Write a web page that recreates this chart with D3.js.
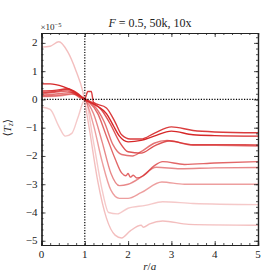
<!DOCTYPE html>
<html>
<head>
<meta charset="utf-8">
<script src="https://cdn.jsdelivr.net/npm/d3@7"></script>
<style>
  body { margin: 0; background: #fff; }
  svg text { font-family: "Liberation Serif", "DejaVu Serif", serif; fill: #222; }
</style>
</head>
<body>
<div id="chart"></div>
<script>
/** <Tz> profile, F = 0.5 *******************/

// x ticks (r/a) and y ticks (units of 1e-5)
var xTicks = [0, 1, 2, 3, 4, 5];
var yTicks = [-5, -4, -3, -2, -1, 0, 1, 2];

// line opacities, darkest first
var alphas = [1.0, 0.9, 0.8, 0.7, 0.65, 0.55, 0.45, 0.25, 0.3];

// each series: [r/a, <Tz> x 1e5]
var s0 = [[0,0.55],[0.2,0.55],[0.5,0.45],[0.75,0.28],[1.0,0.0],[1.3,-0.25],[1.5,-0.5],[1.65,-0.9],[1.8,-1.3],[2.0,-1.5],[2.3,-1.45],[2.6,-1.3],[3.0,-1.12],[3.5,-1.25],[4.0,-1.28],[5,-1.3]];
var s1 = [[0,0.3],[0.3,0.32],[0.6,0.38],[0.85,0.2],[1.0,0.02],[1.07,0.28],[1.15,0.28],[1.2,-0.1],[1.5,-0.3],[1.7,-0.8],[1.85,-1.25],[2.05,-1.4],[2.3,-1.4],[2.6,-1.2],[3.0,-0.97],[3.5,-1.1],[4.0,-1.15],[5,-1.18]];
var s2 = [[0,0.25],[0.3,0.28],[0.6,0.35],[0.9,0.1],[1.1,-0.05],[1.4,-0.4],[1.6,-0.9],[1.8,-1.5],[2.0,-1.85],[2.3,-1.9],[2.6,-1.65],[2.95,-1.47],[3.5,-1.6],[4.0,-1.6],[5,-1.61]];
var s3 = [[0,0.2],[0.3,0.25],[0.6,0.3],[0.9,0.05],[1.1,-0.1],[1.3,-0.5],[1.5,-1.3],[1.7,-2.1],[1.85,-2.6],[1.95,-2.7],[2.0,-2.62],[2.05,-2.75],[2.12,-2.68],[2.2,-2.78],[2.35,-2.7],[2.6,-2.35],[2.8,-2.2],[3.3,-2.3],[4.0,-2.25],[5,-2.2]];
var s4 = [[0,0.15],[0.4,0.2],[0.7,0.25],[1.0,0.0],[1.2,-0.2],[1.45,-0.8],[1.65,-1.6],[1.85,-1.95],[2.1,-2.0],[2.3,-1.85],[2.6,-1.55],[2.9,-1.45],[3.5,-1.62],[4.0,-1.62],[5,-1.65]];
var s5 = [[0,0.12],[0.4,0.15],[0.7,0.2],[1.0,0.0],[1.2,-0.5],[1.4,-1.5],[1.6,-2.6],[1.8,-3.05],[2.0,-3.0],[2.3,-2.75],[2.65,-2.4],[3.2,-2.45],[4.0,-2.42],[5,-2.41]];
var s6 = [[0,0.1],[0.4,0.12],[0.7,0.18],[1.0,0.0],[1.2,-0.9],[1.4,-2.2],[1.6,-3.2],[1.8,-3.5],[2.0,-3.5],[2.3,-3.3],[2.78,-2.92],[3.3,-3.0],[4.0,-3.0],[5,-3.0]];
var s7 = [[0,-0.27],[0.2,-0.35],[0.4,-0.95],[0.55,-1.3],[0.7,-1.2],[0.85,-0.6],[1.0,0.0],[1.2,-1.5],[1.4,-3.2],[1.55,-4.0],[1.75,-4.05],[2.0,-3.85],[2.4,-3.75],[2.8,-3.62],[3.5,-3.68],[5,-3.72]];
var s8 = [[0,1.85],[0.2,1.88],[0.4,2.04],[0.6,1.7],[0.8,1.0],[0.95,0.3],[1.1,-1.0],[1.3,-2.9],[1.5,-4.2],[1.7,-4.8],[1.85,-4.9],[2.05,-4.65],[2.3,-4.45],[2.35,-4.52],[2.5,-4.4],[2.8,-4.3],[3.4,-4.42],[5,-4.45]];

var series = [s0, s1, s2, s3, s4, s5, s6, s7, s8];

//**************************************************/

var W = 277, H = 277;
var padL = 41.5, padR = 258, padT = 33, padB = 245;

var svg = d3.select("#chart").append("svg")
    .attr("width", W)
    .attr("height", H);

var x = d3.scaleLinear().domain([0, 5]).range([padL, padR]);
var y = d3.scaleLinear().domain([-5.15, 2.35]).range([padB, padT]);

svg.append("clipPath").attr("id", "clip")
  .append("rect")
    .attr("x", padL).attr("y", padT)
    .attr("width", padR - padL).attr("height", padB - padT);

var line = d3.line()
    .x(function(d) { return x(d[0]); })
    .y(function(d) { return y(d[1]); })
    .curve(d3.curveMonotoneX);

var plot = svg.append("g").attr("clip-path", "url(#clip)");

// draw lightest first so dark ones sit on top
var order = d3.range(series.length).sort(function(a, b) { return alphas[a] - alphas[b]; });
order.forEach(function(i) {
    plot.append("path")
        .attr("d", line(series[i]))
        .attr("fill", "none")
        .attr("stroke", "#d62728")
        .attr("stroke-opacity", alphas[i])
        .attr("stroke-width", 1.4);
});

// dotted guides
svg.append("line")
    .attr("x1", padL).attr("x2", padR)
    .attr("y1", y(0)).attr("y2", y(0))
    .attr("stroke", "#000").attr("stroke-width", 1.2)
    .attr("stroke-dasharray", "1.2,1.5");
svg.append("line")
    .attr("x1", x(1)).attr("x2", x(1))
    .attr("y1", padT).attr("y2", padB)
    .attr("stroke", "#000").attr("stroke-width", 1.2)
    .attr("stroke-dasharray", "1.2,1.5");

// axes, ticks inward on all four sides
var fmt = function(d) { return d < 0 ? "\u2212" + (-d) : "" + d; };
var xMinor = d3.range(0, 5.001, 0.2);
var yMinor = d3.range(-5, 2.35, 0.2);

svg.append("g").attr("transform", "translate(0," + padB + ")")
    .call(d3.axisTop(x).tickValues(xMinor).tickSize(2).tickFormat(""));
svg.append("g").attr("transform", "translate(0," + padB + ")")
    .call(d3.axisTop(x).tickValues(xTicks).tickSize(4).tickFormat(""));
svg.append("g").attr("transform", "translate(0," + padT + ")")
    .call(d3.axisBottom(x).tickValues(xMinor).tickSize(2).tickFormat(""));
svg.append("g").attr("transform", "translate(0," + padT + ")")
    .call(d3.axisBottom(x).tickValues(xTicks).tickSize(4).tickFormat(""));
svg.append("g").attr("transform", "translate(" + padL + ",0)")
    .call(d3.axisRight(y).tickValues(yMinor).tickSize(2).tickFormat(""));
svg.append("g").attr("transform", "translate(" + padL + ",0)")
    .call(d3.axisRight(y).tickValues(yTicks).tickSize(4).tickFormat(""));
svg.append("g").attr("transform", "translate(" + padR + ",0)")
    .call(d3.axisLeft(y).tickValues(yMinor).tickSize(2).tickFormat(""));
svg.append("g").attr("transform", "translate(" + padR + ",0)")
    .call(d3.axisLeft(y).tickValues(yTicks).tickSize(4).tickFormat(""));

svg.selectAll(".domain").attr("stroke", "#222").attr("stroke-width", 1.2);
svg.selectAll(".tick line").attr("stroke", "#222").attr("stroke-width", 0.8);

// tick labels
svg.selectAll(".xlab").data(xTicks).enter().append("text")
    .attr("x", function(d) { return x(d); })
    .attr("y", padB + 13)
    .attr("text-anchor", "middle")
    .style("font-size", "11px")
    .text(fmt);
svg.selectAll(".ylab").data(yTicks).enter().append("text")
    .attr("x", padL - 4)
    .attr("y", function(d) { return y(d) + 3.5; })
    .attr("text-anchor", "end")
    .style("font-size", "11px")
    .text(fmt);

// offset text
var off = svg.append("text").attr("x", padL - 1).attr("y", padT - 3).style("font-size", "9px");
off.append("tspan").text("\u00d710");
off.append("tspan").attr("dy", -3.5).style("font-size", "6.5px").text("\u22125");

// title
var t = svg.append("text").attr("x", 150).attr("y", 27).attr("text-anchor", "middle").style("font-size", "12px");
t.append("tspan").style("font-style", "italic").text("F");
t.append("tspan").text(" = 0.5, 50k, 10x");

// axis labels
var xl = svg.append("text").attr("x", x(2.5)).attr("y", 270).attr("text-anchor", "middle").style("font-size", "11px");
xl.append("tspan").style("font-style", "italic").text("r");
xl.append("tspan").text("/");
xl.append("tspan").style("font-style", "italic").text("a");

var yl = svg.append("text")
    .attr("transform", "translate(11," + y(-1.0) + ") rotate(-90)")
    .attr("text-anchor", "middle").style("font-size", "11px");
yl.append("tspan").text("\u27e8");
yl.append("tspan").style("font-style", "italic").text("T");
yl.append("tspan").attr("dy", 2).style("font-size", "7.5px").style("font-style", "italic").text("z");
yl.append("tspan").attr("dy", -2).text("\u27e9");
</script>
</body>
</html>
